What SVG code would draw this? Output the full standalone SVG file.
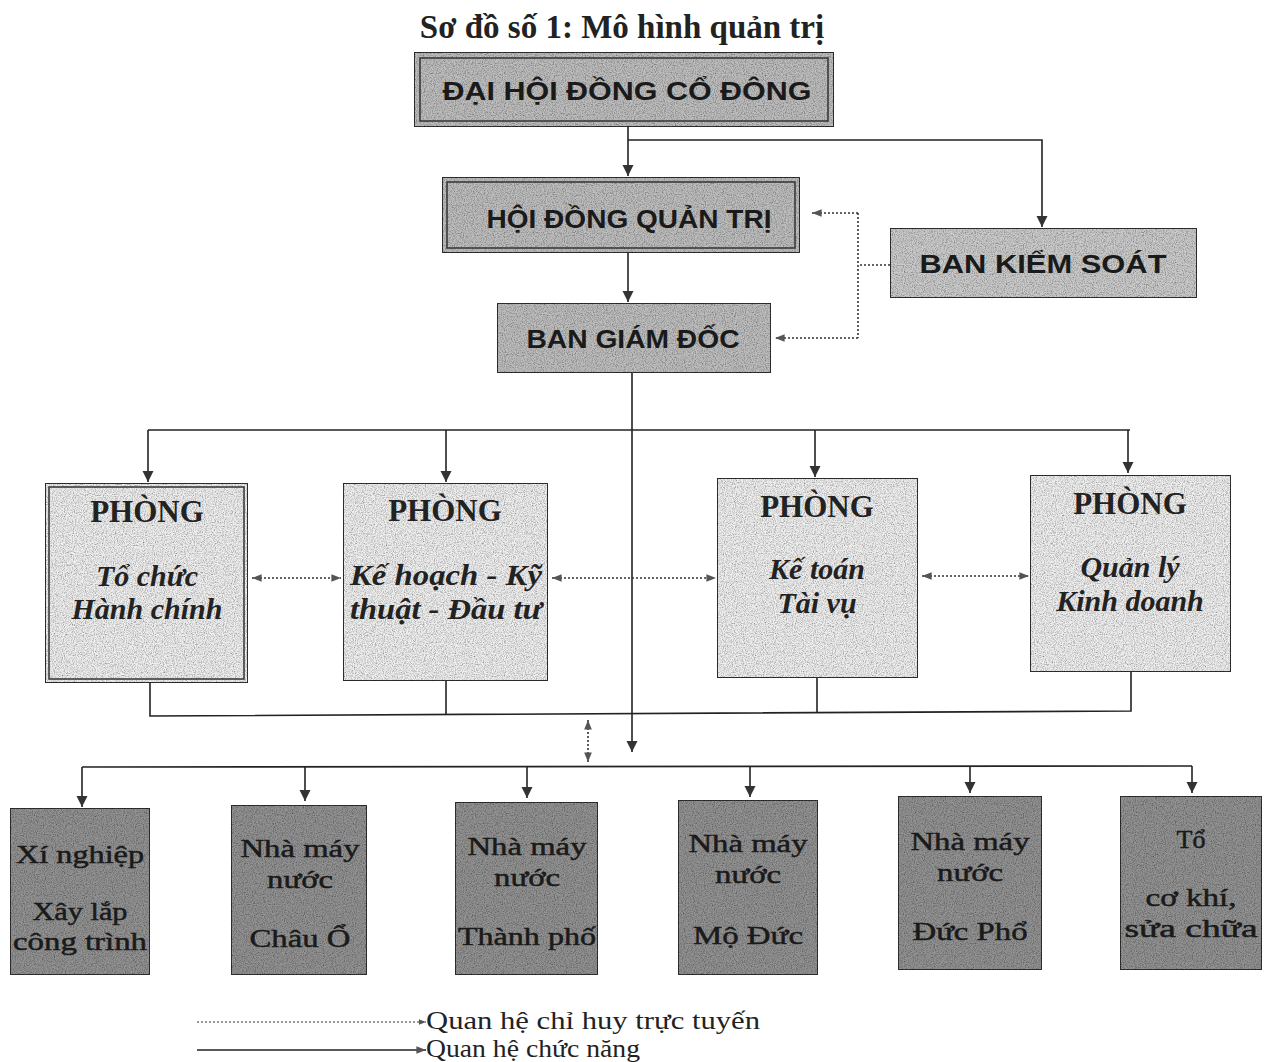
<svg xmlns="http://www.w3.org/2000/svg" width="1271" height="1062" viewBox="0 0 1271 1062">
<style>
.title{font-family:"Liberation Serif",serif;font-weight:bold;font-size:33px;fill:#222;text-anchor:middle}
.top{fill:#bdbdbd;stroke:#333;stroke-width:2}
.inner{fill:none;stroke:#333;stroke-width:1.5}
.tt{font-family:"Liberation Sans",Arial,sans-serif;font-weight:bold;font-size:25px;fill:#1a1a1a;text-anchor:middle}
.ph{fill:#eeeeee;stroke:#333;stroke-width:2}
.phh{font-family:"Liberation Serif",serif;font-weight:bold;font-size:31px;fill:#222;text-anchor:middle}
.phi{font-family:"Liberation Serif",serif;font-weight:bold;font-style:italic;font-size:30px;fill:#222;text-anchor:middle}
.bot{fill:#929292;stroke:#333;stroke-width:2}
.bt{font-family:"Liberation Serif",serif;font-size:26px;fill:#1a1a1a;stroke:#1a1a1a;stroke-width:0.5;text-anchor:middle}
.ln{fill:none;stroke:#222;stroke-width:1.6}
.dt{fill:none;stroke:#333;stroke-width:1.6;stroke-dasharray:2 2}
.lg{font-family:"Liberation Serif",serif;font-size:25px;fill:#222}
</style>
<defs>
<marker id="a" viewBox="0 0 10 10" refX="10" refY="5" markerWidth="7" markerHeight="7" orient="auto"><path d="M0,0 L10,5 L0,10 z" fill="#333"/></marker>
<marker id="ad" viewBox="0 0 10 10" refX="10" refY="5" markerWidth="6" markerHeight="6" orient="auto-start-reverse"><path d="M0,1 L10,5 L0,9 z" fill="#555"/></marker>
<filter id="grain" x="0" y="0" width="100%" height="100%">
  <feTurbulence type="fractalNoise" baseFrequency="0.9" numOctaves="2" seed="4" result="n"/>
  <feColorMatrix in="n" type="matrix" values="0 0 0 0 0  0 0 0 0 0  0 0 0 0 0  0 0 0 -1.4 0.85" result="m"/>
  <feComposite in="m" in2="SourceGraphic" operator="in" result="d"/>
  <feMerge><feMergeNode in="SourceGraphic"/><feMergeNode in="d"/></feMerge>
</filter>
</defs>

<text class="title" x="622" y="38">Sơ đồ số 1: Mô hình quản trị</text>

<g id="connectors">
  <line class="ln" x1="628" y1="127" x2="628" y2="176" marker-end="url(#a)"/>
  <polyline class="ln" points="628,140 1042,140 1042,227" marker-end="url(#a)"/>
  <line class="ln" x1="628" y1="253" x2="628" y2="302" marker-end="url(#a)"/>
  <line class="dt" x1="890" y1="265" x2="858" y2="265"/>
  <line class="dt" x1="858" y1="213" x2="858" y2="338"/>
  <line class="dt" x1="858" y1="213" x2="812" y2="213" marker-end="url(#ad)"/>
  <line class="dt" x1="858" y1="338" x2="775" y2="338" marker-end="url(#ad)"/>
  <line class="ln" x1="632" y1="373" x2="632" y2="752" marker-end="url(#a)"/>
  <line class="ln" x1="148" y1="430" x2="1130" y2="430"/>
  <line class="ln" x1="148" y1="430" x2="148" y2="482" marker-end="url(#a)"/>
  <line class="ln" x1="446" y1="430" x2="446" y2="482" marker-end="url(#a)"/>
  <line class="ln" x1="815" y1="430" x2="815" y2="477" marker-end="url(#a)"/>
  <line class="ln" x1="1128" y1="430" x2="1128" y2="473" marker-end="url(#a)"/>
  <line class="dt" x1="252" y1="578" x2="341" y2="578" marker-start="url(#ad)" marker-end="url(#ad)"/>
  <line class="dt" x1="552" y1="578" x2="716" y2="578" marker-start="url(#ad)" marker-end="url(#ad)"/>
  <line class="dt" x1="922" y1="576" x2="1029" y2="576" marker-start="url(#ad)" marker-end="url(#ad)"/>
  <polyline class="ln" points="150,683 150,716 1131,711 1131,672"/>
  <line class="ln" x1="446" y1="681" x2="446" y2="715"/>
  <line class="ln" x1="817" y1="678" x2="817" y2="713"/>
  <line class="dt" x1="588" y1="720" x2="588" y2="762" marker-start="url(#ad)" marker-end="url(#ad)"/>
  <line class="ln" x1="82" y1="767" x2="1192" y2="766"/>
  <line class="ln" x1="82" y1="767" x2="82" y2="807" marker-end="url(#a)"/>
  <line class="ln" x1="305" y1="767" x2="305" y2="801" marker-end="url(#a)"/>
  <line class="ln" x1="527" y1="767" x2="527" y2="798" marker-end="url(#a)"/>
  <line class="ln" x1="750" y1="766" x2="750" y2="797" marker-end="url(#a)"/>
  <line class="ln" x1="970" y1="766" x2="970" y2="793" marker-end="url(#a)"/>
  <line class="ln" x1="1192" y1="766" x2="1192" y2="793" marker-end="url(#a)"/>
</g>

<g id="dhdcd">
  <rect class="top" x="414" y="52" width="420" height="75" filter="url(#grain)"/>
  <rect class="inner" x="420" y="58" width="408" height="63"/>
  <text class="tt" x="627" y="100" textLength="369" lengthAdjust="spacingAndGlyphs">ĐẠI HỘI ĐỒNG CỔ ĐÔNG</text>
</g>
<g id="hdqt">
  <rect class="top" x="442" y="177" width="358" height="76" filter="url(#grain)"/>
  <rect class="inner" x="447" y="182" width="348" height="66"/>
  <text class="tt" x="629" y="228" textLength="285" lengthAdjust="spacingAndGlyphs">HỘI ĐỒNG QUẢN TRỊ</text>
</g>
<g id="bgd">
  <rect class="top" x="497" y="303" width="274" height="70" filter="url(#grain)"/>
  <text class="tt" x="633" y="348" textLength="213" lengthAdjust="spacingAndGlyphs">BAN GIÁM ĐỐC</text>
</g>
<g id="bks">
  <rect class="top" x="890" y="228" width="307" height="70" style="fill:#cacaca" filter="url(#grain)"/>
  <text class="tt" x="1043" y="273" textLength="247" lengthAdjust="spacingAndGlyphs">BAN KIỂM SOÁT</text>
</g>

<g id="p1">
  <rect class="ph" x="45" y="483" width="203" height="200" filter="url(#grain)"/>
  <rect class="inner" x="49" y="487" width="195" height="192"/>
  <text class="phh" x="147" y="522">PHÒNG</text>
  <text class="phi" x="147" y="586">Tổ chức</text>
  <text class="phi" x="147" y="619">Hành chính</text>
</g>
<g id="p2">
  <rect class="ph" x="343" y="483" width="205" height="198" filter="url(#grain)"/>
  <text class="phh" x="445" y="521">PHÒNG</text>
  <text class="phi" x="446" y="585" textLength="192" lengthAdjust="spacingAndGlyphs">Kế hoạch - Kỹ</text>
  <text class="phi" x="446" y="619" textLength="192" lengthAdjust="spacingAndGlyphs">thuật - Đầu tư</text>
</g>
<g id="p3">
  <rect class="ph" x="717" y="478" width="201" height="200" filter="url(#grain)"/>
  <text class="phh" x="817" y="517">PHÒNG</text>
  <text class="phi" x="817" y="579">Kế toán</text>
  <text class="phi" x="817" y="613">Tài vụ</text>
</g>
<g id="p4">
  <rect class="ph" x="1030" y="475" width="201" height="197" filter="url(#grain)"/>
  <text class="phh" x="1130" y="514">PHÒNG</text>
  <text class="phi" x="1130" y="577">Quản lý</text>
  <text class="phi" x="1130" y="611">Kinh doanh</text>
</g>

<g id="b1">
  <rect class="bot" x="10" y="808" width="140" height="167" filter="url(#grain)"/>
  <text class="bt" x="80" y="863" textLength="128" lengthAdjust="spacingAndGlyphs">Xí nghiệp</text>
  <text class="bt" x="80" y="920" textLength="95" lengthAdjust="spacingAndGlyphs">Xây lắp</text>
  <text class="bt" x="80" y="950" textLength="134" lengthAdjust="spacingAndGlyphs">công trình</text>
</g>
<g id="b2">
  <rect class="bot" x="231" y="805" width="136" height="170" filter="url(#grain)"/>
  <text class="bt" x="300" y="857" textLength="119" lengthAdjust="spacingAndGlyphs">Nhà máy</text>
  <text class="bt" x="300" y="888" textLength="66" lengthAdjust="spacingAndGlyphs">nước</text>
  <text class="bt" x="300" y="947" textLength="101" lengthAdjust="spacingAndGlyphs">Châu Ổ</text>
</g>
<g id="b3">
  <rect class="bot" x="455" y="802" width="143" height="173" filter="url(#grain)"/>
  <text class="bt" x="527" y="855" textLength="119" lengthAdjust="spacingAndGlyphs">Nhà máy</text>
  <text class="bt" x="527" y="886" textLength="66" lengthAdjust="spacingAndGlyphs">nước</text>
  <text class="bt" x="527" y="945" textLength="138" lengthAdjust="spacingAndGlyphs">Thành phố</text>
</g>
<g id="b4">
  <rect class="bot" x="678" y="800" width="140" height="175" filter="url(#grain)"/>
  <text class="bt" x="748" y="852" textLength="119" lengthAdjust="spacingAndGlyphs">Nhà máy</text>
  <text class="bt" x="748" y="883" textLength="66" lengthAdjust="spacingAndGlyphs">nước</text>
  <text class="bt" x="748" y="944" textLength="110" lengthAdjust="spacingAndGlyphs">Mộ Đức</text>
</g>
<g id="b5">
  <rect class="bot" x="898" y="796" width="144" height="174" filter="url(#grain)"/>
  <text class="bt" x="970" y="850" textLength="119" lengthAdjust="spacingAndGlyphs">Nhà máy</text>
  <text class="bt" x="970" y="881" textLength="66" lengthAdjust="spacingAndGlyphs">nước</text>
  <text class="bt" x="970" y="940" textLength="115" lengthAdjust="spacingAndGlyphs">Đức Phổ</text>
</g>
<g id="b6">
  <rect class="bot" x="1120" y="796" width="142" height="174" filter="url(#grain)"/>
  <text class="bt" x="1191" y="848">Tổ</text>
  <text class="bt" x="1191" y="906" textLength="91" lengthAdjust="spacingAndGlyphs">cơ khí,</text>
  <text class="bt" x="1191" y="937" textLength="133" lengthAdjust="spacingAndGlyphs">sửa chữa</text>
</g>

<g id="legend">
  <line class="dt" x1="197" y1="1022" x2="426" y2="1022" style="stroke-width:1.2" marker-end="url(#ad)"/>
  <text class="lg" x="426" y="1029" textLength="334" lengthAdjust="spacingAndGlyphs">Quan hệ chỉ huy trực tuyến</text>
  <line class="ln" x1="197" y1="1050" x2="426" y2="1050" marker-end="url(#ad)"/>
  <text class="lg" x="426" y="1057" textLength="214" lengthAdjust="spacingAndGlyphs">Quan hệ chức năng</text>
</g>
</svg>
